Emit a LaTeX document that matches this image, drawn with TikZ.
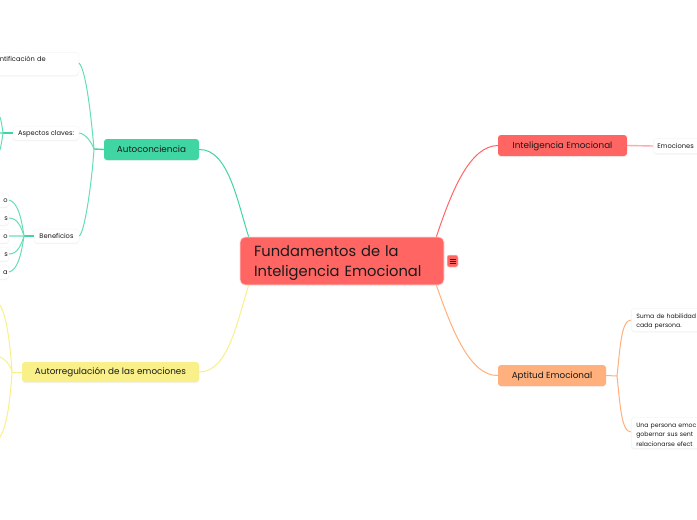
\documentclass[tikz,border=0pt]{standalone}
\usepackage{fontspec}
\setmainfont{Poppins}
\usetikzlibrary{shadows}
\definecolor{cgreen}{HTML}{40D6A3}
\definecolor{cred}{HTML}{FF6663}
\definecolor{cyellow}{HTML}{F9F08A}
\definecolor{corange}{HTML}{FFB07C}
\definecolor{ink}{HTML}{1A1A1A}
\tikzset{
  x=1pt,y=-1pt,
  boxbase/.style={rounded corners=3pt,inner sep=0pt,text=ink,drop shadow={opacity=.10,shadow xshift=0pt,shadow yshift=-1pt}},
  topicbox/.style={boxbase,font=\fontsize{8.8}{10}\selectfont,text height=6.5pt,text depth=1.5pt},
  leafbox/.style={boxbase,fill=white,draw=black!4,line width=.5pt,align=left,font=\fontsize{6.7}{9.3}\selectfont},
  cutleaf/.style={leafbox,font=\fontsize{6.2}{9.3}\selectfont},
  oneline/.style={text height=5.5pt,text depth=.5pt},
  rootbox/.style={rounded corners=5pt,fill=cred,inner sep=0pt,text=ink,align=left,font=\fontsize{14.7}{20}\selectfont,draw=cred!25,line width=.8pt},
  link/.style={line width=1pt},
  stem/.style={line width=1.4pt},
}
\begin{document}
\begin{tikzpicture}
\useasboundingbox (0,0) rectangle (697,520);
\clip (0,0) rectangle (697,520);
\fill[white] (0,0) rectangle (697,520);
% junctions
\coordinate (jA) at (94,149);
\coordinate (jAs) at (3,133);
\coordinate (jB) at (24,236);
\coordinate (jY) at (12,372);
\coordinate (jO) at (617,376);
\coordinate (oA1) at (0,117);
\coordinate (oA2) at (0,150);
\coordinate (oA3) at (0,133);
\coordinate (oY1) at (0,305);
\coordinate (oY2) at (0,357);
\coordinate (oY3) at (0,437);
% nodes
\node[rootbox,minimum width=204pt,minimum height=48pt,text width=176pt,inner xsep=14pt] (root) at (342,261) {\rule{0pt}{15pt}Fundamentos de la\\Inteligencia Emocional};
\node[rounded corners=2pt,fill=cred,draw=cred!25,line width=.5pt,minimum width=11pt,minimum height=12pt,inner sep=0pt] (menu) at (452.5,261) {};
\node[topicbox,fill=cgreen,minimum width=95pt,minimum height=21pt] (auto) at (151.5,149.5) {Autoconciencia};
\node[topicbox,fill=cyellow,minimum width=177pt,minimum height=20pt] (regu) at (110.5,372) {Autorregulación de las emociones};
\node[topicbox,fill=cred,minimum width=129pt,minimum height=21pt] (inte) at (562.5,145.5) {Inteligencia Emocional};
\node[topicbox,fill=corange,minimum width=108pt,minimum height=21pt] (apti) at (552,375.5) {Aptitud Emocional};
\node[leafbox,minimum width=93pt,minimum height=23pt,text width=85pt,inner xsep=4pt,anchor=north east,text height=8.5pt,text depth=14pt] (iden) at (79,52) {\hspace*{10pt}ntificación de};
\node[leafbox,oneline,minimum width=66pt,minimum height=14pt] (aspe) at (46,133) {Aspectos claves:};
\node[leafbox,oneline,minimum width=45pt,minimum height=14pt] (bene) at (56.5,236) {Beneficios};
\node[leafbox,oneline,minimum width=30pt,minimum height=14pt,anchor=east,align=right,text width=28pt] (b1) at (9,200) {o};
\node[leafbox,oneline,minimum width=30pt,minimum height=14pt,anchor=east,align=right,text width=28pt] (b2) at (9,218) {s};
\node[leafbox,oneline,minimum width=30pt,minimum height=14pt,anchor=east,align=right,text width=28pt] (b3) at (9,236) {o};
\node[leafbox,oneline,minimum width=30pt,minimum height=14pt,anchor=east,align=right,text width=28pt] (b4) at (9,254) {s};
\node[leafbox,oneline,minimum width=30pt,minimum height=14pt,anchor=east,align=right,text width=28pt] (b5) at (9,272) {a};
\node[leafbox,oneline,minimum width=80pt,minimum height=15pt,anchor=west,text width=76pt] (emoc) at (653,146) {\hspace*{2pt}Emociones};
\node[cutleaf,minimum width=90pt,minimum height=23pt,anchor=north west,text width=85pt] (suma) at (631,308) {\rule{0pt}{8pt}\hspace*{2.5pt}Suma de habilidad\\\hspace*{2.5pt}cada persona.};
\node[cutleaf,minimum width=90pt,minimum height=31pt,anchor=north west,text width=85pt] (una) at (631,417) {\rule{0pt}{8pt}\hspace*{2.5pt}Una persona emoc\\\hspace*{2.5pt}gobernar sus sent\\\hspace*{2.5pt}relacionarse efect};
% hamburger icon lines
\foreach \yy in {-2,0,2} \draw[ink,line width=.6pt] ([xshift=-3pt,yshift=\yy pt]menu.center) -- ([xshift=3pt,yshift=\yy pt]menu.center);
% main branches
\draw[link,cgreen] (auto.east) .. controls (228,149) and (237,200) .. ([xshift=9pt]root.north west);
\draw[link,cyellow] (regu.east) .. controls (228,372) and (237,322) .. ([xshift=9pt]root.south west);
\draw[link,cred] (inte.west) .. controls (470,146) and (452,190) .. ([xshift=-8pt]root.north east);
\draw[link,corange] (apti.west) .. controls (470,376) and (452,330) .. ([xshift=-8pt]root.south east);
% green sub-branches
\draw[stem,cgreen] (auto.west) -- (jA);
\draw[link,cgreen!80] (jA) .. controls (91,115) and (86,70) .. (iden.east |- 0,63);
\draw[link,cgreen!80] (jA) .. controls (92,143) and (86,134) .. (aspe.east);
\draw[link,cgreen!80] (jA) .. controls (92,180) and (85,232) .. (bene.east);
\draw[stem,cgreen] (aspe.west) -- (jAs);
\draw[stem,cgreen!60] (jAs) -- (oA3);
\draw[link,cgreen!80] (jAs) .. controls (2,125) and (1,120) .. (oA1);
\draw[link,cgreen!80] (jAs) .. controls (2,140) and (1,146) .. (oA2);
\draw[stem,cgreen] (bene.west) -- (jB);
\draw[link,cgreen!80] (jB) .. controls (21,215) and (17,202) .. (b1.east);
\draw[link,cgreen!80] (jB) .. controls (21,226) and (17,218) .. (b2.east);
\draw[stem,cgreen!50] (jB) -- (b3.east);
\draw[link,cgreen!80] (jB) .. controls (21,246) and (17,254) .. (b4.east);
\draw[link,cgreen!80] (jB) .. controls (21,257) and (17,270) .. (b5.east);
% yellow sub-branches
\draw[link,cyellow] (regu.west) -- (jY);
\draw[link,cyellow] (jY) .. controls (10,340) and (6,315) .. (oY1);
\draw[link,cyellow] (jY) .. controls (10,364) and (5,359) .. (oY2);
\draw[link,cyellow] (jY) .. controls (10,405) and (6,428) .. (oY3);
% red and orange sub-branches
\draw[stem,cred!55] (inte.east) -- (emoc.west);
\draw[link,corange] (apti.east) -- (jO);
\draw[link,corange] (jO) .. controls (620,350) and (621,320) .. (suma.west |- 0,320);
\draw[link,corange] (jO) .. controls (620,402) and (621,432) .. (una.west |- 0,432);
\end{tikzpicture}
\end{document}
